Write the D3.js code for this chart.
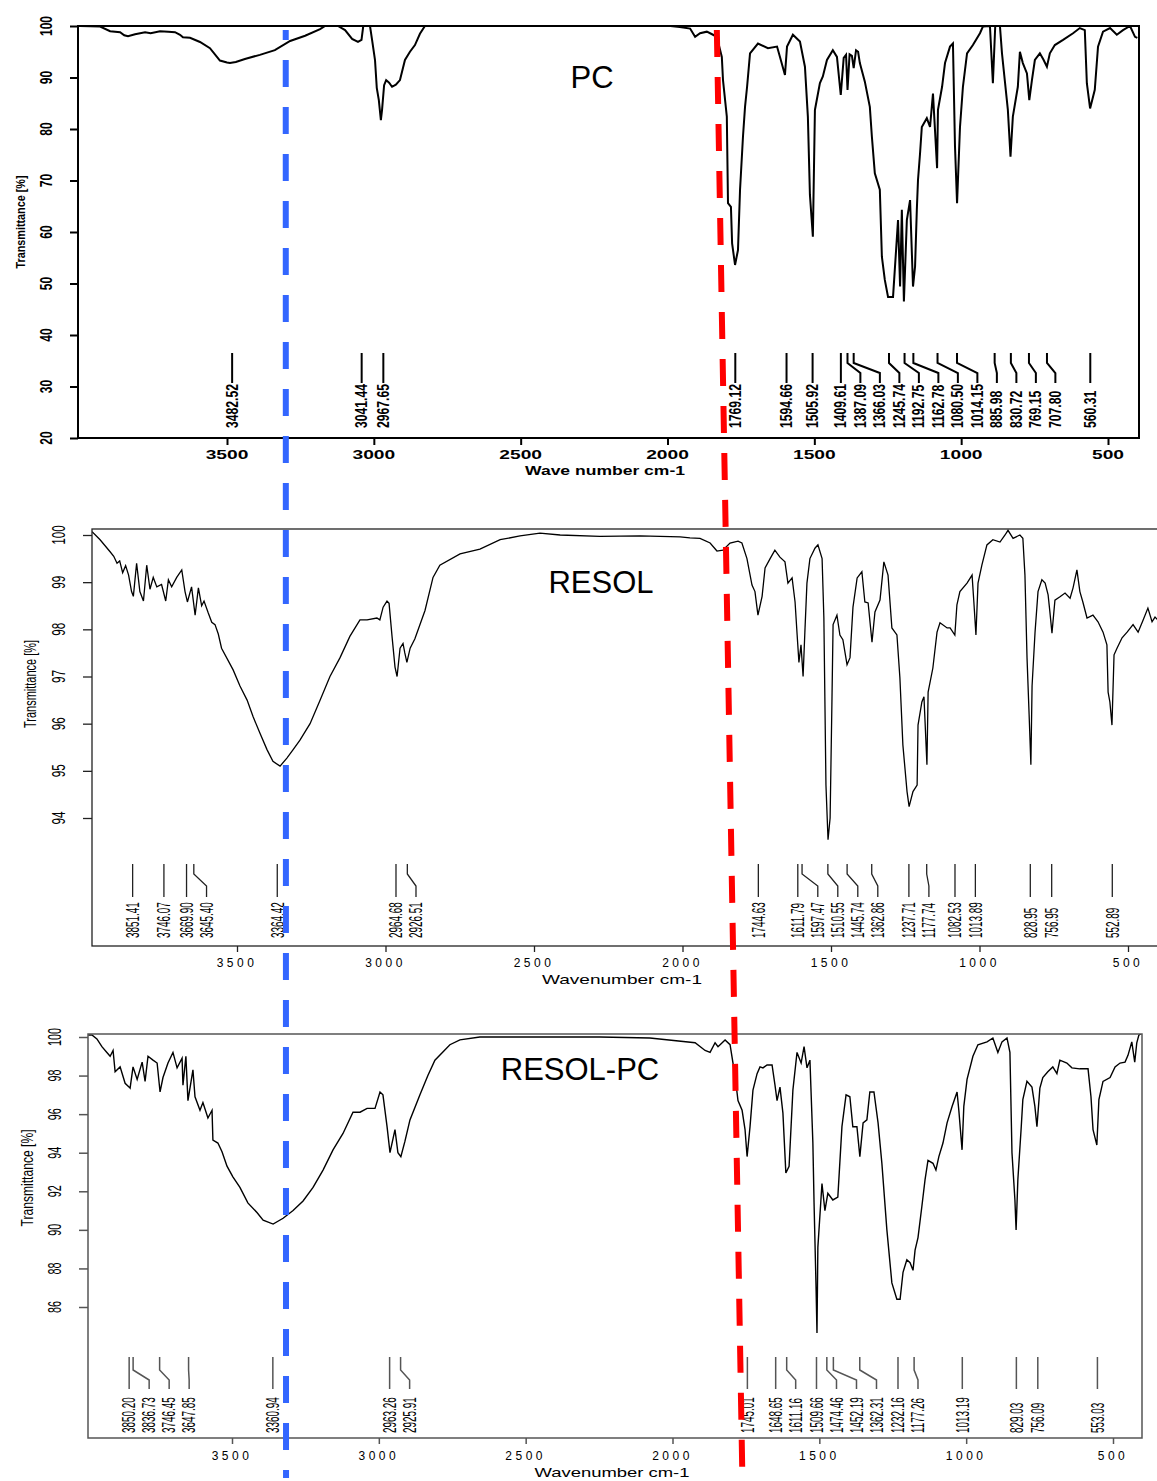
<!DOCTYPE html>
<html>
<head>
<meta charset="utf-8">
<script src="https://cdn.jsdelivr.net/npm/d3@7"></script>
<style>
  body { margin: 0; background: #fff; }
  svg { display: block; font-family: "Liberation Sans", Arial, sans-serif; }
</style>
</head>
<body>
<svg id="chart" width="1157" height="1481"></svg>
<script>
// ---- data: [wavenumber cm-1, transmittance %] ----
const xTicks = [3500, 3000, 2500, 2000, 1500, 1000, 500];
const pcYTicks = [100, 90, 80, 70, 60, 50, 40, 30, 20];
const resolYTicks = [100, 99, 98, 97, 96, 95, 94];
const resolPcYTicks = [100, 98, 96, 94, 92, 90, 88, 86];

const pcPeaks = [3482.52, 3041.44, 2967.65, 1769.12, 1594.66, 1505.92, 1409.61, 1387.09, 1366.03,
  1245.74, 1192.75, 1162.78, 1080.50, 1014.15, 885.98, 830.72, 769.15, 707.80, 560.31];
const resolPeaks = [3851.41, 3746.07, 3669.90, 3645.40, 3364.42, 2964.68, 2926.51, 1744.63, 1611.79,
  1597.47, 1510.55, 1445.74, 1362.86, 1237.71, 1177.74, 1082.53, 1013.89, 828.95, 756.95, 552.89];
const resolPcPeaks = [3850.20, 3836.73, 3746.45, 3647.85, 3360.94, 2963.26, 2925.91, 1745.01, 1648.65,
  1611.16, 1509.66, 1474.46, 1452.19, 1362.31, 1232.16, 1177.26, 1013.19, 829.03, 756.09, 553.03];

const pcSpectrum = [[4000,100],[3932,99.9],[3898,99.0],[3864,98.8],[3850,98.2],[3837,98.0],[3813,98.4],[3779,98.8],
  [3760,98.6],[3728,99.0],[3700,98.9],[3677,98.8],[3660,98.3],[3650,97.8],[3626,97.7],[3592,96.9],[3558,95.7],
  [3524,93.3],[3500,92.9],[3490,92.8],[3470,93.0],[3439,93.6],[3388,94.4],[3337,95.3],[3285,97.1],[3234,98.1],
  [3183,99.4],[3166,100],[3122,100],[3098,99.2],[3074,97.5],[3054,96.9],[3042,97.3],[3036,100],[3013,100],
  [3006,97.3],[2996,93.4],[2990,88],[2983,85.6],[2976,81.7],[2972,83.7],[2965,88.5],[2958,89.5],[2948,89.0],
  [2938,88.2],[2925,88.6],[2911,89.5],[2894,93.4],[2877,95],[2860,96.3],[2843,98.5],[2826,100],[1990,100],
  [1958,99.8],[1923,99.5],[1906,97.9],[1889,98.6],[1866,98.9],[1845,98.3],[1832,97.9],[1815,94],[1811,89.5],
  [1798,82.4],[1794,65.6],[1784,64.9],[1780,57.8],[1770,53.6],[1760,56.5],[1753,68.2],[1743,78.5],[1736,84.3],
  [1729,88.2],[1719,94.7],[1692,96.6],[1658,95.7],[1627,96],[1617,94],[1600,90.5],[1593,96],[1573,98.3],
  [1549,97],[1532,92.1],[1522,82.4],[1515,67.2],[1505,59.1],[1498,83.7],[1481,88.9],[1471,90.2],[1457,93.4],
  [1437,95.3],[1423,94],[1410,86.6],[1400,93.8],[1392,94.4],[1387,87.6],[1380,94.5],[1372,94.2],[1366,91.8],
  [1358,95.3],[1351,95],[1345,92.8],[1328,89.2],[1311,84.3],[1304,78.5],[1294,71.4],[1277,68.2],[1270,55.2],
  [1260,50.7],[1249,47.4],[1232,47.4],[1215,62.3],[1208,49.4],[1202,64.3],[1195,46.5],[1185,62.3],[1174,66.2],
  [1164,49.4],[1157,53.3],[1151,64.3],[1147,70.1],[1140,75.3],[1134,80.4],[1117,82.1],[1106,80.4],[1096,86.9],
  [1082,72.4],[1079,83.7],[1065,88.2],[1055,92.8],[1038,96],[1028,96.6],[1021,76.6],[1014,65.6],[1004,80.4],
  [994,88.2],[980,94.7],[960,96.3],[936,98.6],[926,99.9],[902,100],[892,88.9],[884,100],[868,100],[861,94.7],
  [851,89.2],[841,83.7],[832,74.6],[824,82.4],[807,88.2],[800,95],[790,92.8],[776,90.8],[768,85.6],[759,89.5],
  [749,93.4],[732,94.7],[720,93.5],[708,92.1],[698,94.7],[681,96.3],[653,97.3],[619,98.6],[596,99.6],[579,99.2],
  [572,88.9],[561,84],[545,87.6],[534,96],[517,98.9],[493,99.6],[470,98.3],[449,99.2],[425,100],[408,97.9],[400,97.7]];

const resolSpectrum = [[3988,100.07],[3961,99.9],[3928,99.65],[3915,99.55],[3904,99.4],[3895,99.45],[3885,99.2],
  [3875,99.35],[3865,99.15],[3855,98.8],[3849,98.7],[3838,99.4],[3827,98.8],[3815,98.6],[3804,99.36],[3793,98.85],
  [3782,99.1],[3770,98.9],[3754,98.95],[3740,98.6],[3731,99.05],[3720,98.9],[3703,99.1],[3686,99.26],[3675,98.8],
  [3667,98.58],[3653,98.9],[3641,98.3],[3630,98.88],[3619,98.5],[3611,98.6],[3597,98.35],[3585,98.15],[3574,98.1],
  [3563,97.9],[3552,97.6],[3513,97.14],[3490,96.8],[3466,96.5],
  [3446,96.15],[3423,95.8],[3399,95.45],[3379,95.2],[3355,95.1],[3332,95.27],[3311,95.45],[3288,95.65],[3254,96],
  [3220,96.5],[3187,97],[3153,97.4],[3120,97.85],[3086,98.2],[3062,98.2],[3029,98.24],[3019,98.2],[3008,98.47],
  [2995,98.6],[2988,98.55],[2978,97.85],[2968,97.2],[2961,97.0],[2951,97.6],[2941,97.7],[2935,97.5],[2928,97.3],
  [2917,97.6],[2901,97.8],[2867,98.4],[2840,99.1],[2817,99.36],[2749,99.6],[2682,99.7],[2614,99.9],[2547,99.98],
  [2480,100.04],[2412,100],[2278,99.97],[2143,99.98],[2008,99.96],[1975,99.94],[1941,99.93],[1907,99.83],
  [1884,99.66],[1864,99.68],[1840,99.83],[1813,99.87],[1800,99.83],[1783,99.5],[1766,98.94],[1756,98.8],
  [1746,98.3],[1732,98.7],[1722,99.3],[1705,99.5],[1689,99.68],[1672,99.53],[1655,99.43],[1645,98.98],
  [1631,99.09],[1621,98.58],[1614,97.88],[1608,97.3],[1601,97.67],[1594,97.0],[1588,97.94],[1581,98.98],
  [1571,99.5],[1554,99.72],[1544,99.79],[1530,99.5],[1524,98.24],[1517,94.7],[1510,93.54],[1503,94],[1497,96.4],
  [1493,98.1],[1480,98.3],[1470,97.88],[1460,97.78],[1446,97.25],[1436,97.4],[1426,98.47],[1412,99.09],
  [1396,99.22],[1386,98.58],[1375,98.56],[1362,97.73],[1352,98.37],[1335,98.62],[1322,99.43],[1308,99.15],
  [1295,98.03],[1278,97.88],[1268,96.97],[1258,95.55],[1244,94.56],[1237,94.24],[1224,94.56],[1210,94.7],
  [1207,95.97],[1194,96.46],[1187,96.57],[1177,95.13],[1173,96.67],[1157,97.18],[1143,97.94],[1133,98.14],
  [1109,98.03],[1099,98.03],[1083,97.88],[1076,98.52],[1066,98.8],[1042,98.98],[1025,99.15],[1019,98.58],
  [1012,97.88],[1005,98.98],[992,99.36],[975,99.79],[955,99.9],[931,99.85],[914,100],[904,100.1],[887,99.93],
  [864,100],[854,99.93],[847,99.15],[840,97.4],[833,96.2],[827,95.13],[823,96.8],[813,97.94],[803,98.8],
  [790,99.05],[779,98.98],[769,98.73],[763,98.37],[756,97.92],[746,98.62],[729,98.69],[712,98.77],[695,98.66],
  [685,98.88],[672,99.26],[662,98.8],[652,98.58],[638,98.24],[618,98.3],[601,98.16],[584,97.94],[571,97.67],
  [567,96.67],[561,96.46],[554,95.97],[547,97.46],[537,97.6],[520,97.82],[503,97.94],[483,98.1],[466,97.94],
  [449,98.2],[433,98.45],[419,98.16],[409,98.26],[400,98.2]];

const resolPcSpectrum = [[3990,100.1],[3977,100.1],[3960,99.9],[3943,99.5],[3926,99.2],[3915,99.0],[3905,99.3],
  [3898,98.2],[3881,98.45],[3864,97.6],[3850,97.4],[3847,97.35],[3837,98.45],[3823,97.8],[3806,98.7],[3796,97.7],
  [3786,99.0],[3769,98.8],[3755,98.65],[3745,97.15],[3735,97.9],[3718,98.65],[3701,99.2],[3687,98.4],[3670,98.9],
  [3667,97.5],[3657,99.0],[3650,96.7],[3633,98.3],[3626,96.9],[3609,96.2],[3599,96.6],[3582,95.8],[3568,96.2],
  [3565,94.65],[3548,94.5],[3534,94.05],[3517,93.3],[3497,92.75],[3473,92.2],[3446,91.4],[3415,90.9],[3394,90.5],
  [3360,90.3],[3326,90.6],[3292,91],[3258,91.5],[3224,92.2],[3190,93.1],[3156,94.15],[3122,95],[3088,96.1],
  [3064,96.1],[3040,96.3],[3013,96.3],[2996,97.15],[2986,97],[2972,95.35],[2962,94],[2945,95.2],[2935,94],
  [2925,93.8],[2911,94.6],[2894,95.7],[2860,97],[2833,98],[2809,98.8],[2758,99.6],[2724,99.85],[2656,100],
  [2519,100],[2247,100],[2077,99.95],[1923,99.7],[1889,99.3],[1872,99.2],[1855,99.7],[1845,99.5],[1821,99.85],
  [1804,99.6],[1794,98.65],[1784,97.6],[1777,96.7],[1763,96.2],[1753,95.2],[1746,93.8],[1736,95.35],[1726,97.25],
  [1712,98.1],[1702,98.45],[1692,98.4],[1678,98.55],[1661,98.55],[1651,97.5],[1644,96.7],[1634,97.4],[1624,96.05],
  [1614,92.95],[1603,93.3],[1590,97.25],[1576,99.2],[1562,98.65],[1552,99.5],[1542,98.4],[1532,98.8],[1522,94.5],
  [1518,91.4],[1511,86.9],[1508,84.65],[1505,89.1],[1491,92.4],[1481,91],[1471,91.9],[1454,91.55],[1437,91.7],
  [1423,95.35],[1409,97],[1396,96.9],[1386,95.35],[1372,95.35],[1362,93.8],[1351,95.55],[1338,95.7],[1328,97.15],
  [1314,97.15],[1300,95.55],[1287,93.45],[1270,90],[1253,87.25],[1236,86.4],[1225,86.4],[1215,87.8],[1202,88.45],
  [1191,88.3],[1181,87.9],[1174,88.95],[1164,89.6],[1151,91.2],[1140,92.6],[1130,93.6],[1113,93.45],[1103,93.1],
  [1093,93.8],[1079,94.5],[1065,95.55],[1048,96.4],[1031,97.15],[1025,96.2],[1014,94.15],[1008,96.4],[997,97.8],
  [977,99],[960,99.6],[929,99.75],[909,99.95],[892,99.2],[878,99.75],[861,99.95],[851,99.2],[844,94],[834,91.55],
  [830,90],[824,92.6],[813,95.2],[807,96.75],[793,97.7],[776,97.4],[766,96.4],[759,95.35],[749,97.35],[739,97.9],
  [722,98.2],[705,98.45],[691,98.1],[681,98.8],[657,98.65],[640,98.4],[613,98.35],[585,98.35],[575,96.9],
  [568,95.2],[555,94.4],[548,96.75],[534,97.7],[510,97.9],[493,98.45],[476,98.65],[459,98.7],[449,99.05],
  [436,99.75],[426,98.7],[419,99.7],[412,100.1],[402,100.2]];

// dashed guide lines: wavenumber where each meets the top panel and the bottom panel
const blueGuide = [3300, 3316];
const redGuide = [1832, 1762];

// ---- layout ----
const panels = [
  { title: 'PC', titleX: 592, titleY: 88, spectrum: pcSpectrum, peaks: pcPeaks, yTicks: pcYTicks,
    left: 78, right: 1139, top: 26, bottom: 438, xRange: [227, 1108], yDomain: [20, 100], yRange: [438, 26],
    frame: '#000', frameW: 2, lineW: 2, weight: 'bold', tickLen: 8, xTickLen: 7,
    yLabX: 46, yLabSize: 16, yLabSx: 0.75,
    xLabY: 459, xLabSize: 12, xLabSx: 1.6, xLabSpacing: 0,
    xTitle: 'Wave number cm-1', xTitleX: 605, xTitleY: 475, xTitleSize: 12, xTitleLen: 160,
    yTitleX: 20, yTitleY: 222, yTitleSize: 13, yTitleLen: 93,
    pTop: 353, pJ1: 363, pJ2: 373, pBottom: 383, pText: 428, pSize: 16, pSx: 0.76, gap: 19.5 },
  { title: 'RESOL', titleX: 601, titleY: 593, spectrum: resolSpectrum, peaks: resolPeaks, yTicks: resolYTicks,
    left: 92, right: 1160, top: 529, bottom: 946, xRange: [237, 1128], yDomain: [94, 100], yRange: [818, 535],
    frame: '#222', frameW: 1.3, lineW: 1.3, weight: 'normal', tickLen: 9, xTickLen: 6,
    yLabX: 59, yLabSize: 18, yLabSx: 0.65,
    xLabY: 967, xLabSize: 12, xLabSx: 1, xLabSpacing: 3.5,
    xTitle: 'Wavenumber cm-1', xTitleX: 622, xTitleY: 984, xTitleSize: 13, xTitleLen: 160,
    yTitleX: 30, yTitleY: 684, yTitleSize: 16, yTitleLen: 88,
    pTop: 864, pJ1: 874, pJ2: 886, pBottom: 897, pText: 938, pSize: 18, pSx: 0.55, gap: 20 },
  { title: 'RESOL-PC', titleX: 580, titleY: 1080, spectrum: resolPcSpectrum, peaks: resolPcPeaks, yTicks: resolPcYTicks,
    left: 88, right: 1142, top: 1034, bottom: 1438, xRange: [232, 1113], yDomain: [86, 100], yRange: [1307, 1037],
    frame: '#555', frameW: 1.5, lineW: 1.4, weight: 'normal', tickLen: 9, xTickLen: 6,
    yLabX: 55, yLabSize: 18, yLabSx: 0.6,
    xLabY: 1460, xLabSize: 12, xLabSx: 1, xLabSpacing: 3.5,
    xTitle: 'Wavenumber cm-1', xTitleX: 612, xTitleY: 1477, xTitleSize: 13, xTitleLen: 155,
    yTitleX: 27, yTitleY: 1178, yTitleSize: 16, yTitleLen: 97,
    pTop: 1357, pJ1: 1370, pJ2: 1380, pBottom: 1389, pText: 1433, pSize: 18, pSx: 0.55, gap: 20 }
];

const svg = d3.select('#chart');
const fmt = d3.format('.2f');
const xScales = [];

const drawPanel = (p, i) => {
  const x = d3.scaleLinear().domain([3500, 500]).range(p.xRange);
  const y = d3.scaleLinear().domain(p.yDomain).range(p.yRange);
  xScales.push(x);
  const g = svg.append('g').style('font-weight', p.weight);

  svg.append('clipPath').attr('id', 'clip' + i)
     .append('rect')
     .attr('x', p.left).attr('y', p.top)
     .attr('width', p.right - p.left).attr('height', p.bottom - p.top);

  // spectrum
  g.append('path')
   .datum(p.spectrum)
   .attr('clip-path', `url(#clip${i})`)
   .attr('fill', 'none')
   .attr('stroke', '#000')
   .attr('stroke-width', p.lineW)
   .attr('d', d3.line().x(d => x(d[0])).y(d => y(d[1])));

  // frame
  g.append('rect')
   .attr('x', p.left).attr('y', p.top)
   .attr('width', p.right - p.left).attr('height', p.bottom - p.top)
   .attr('fill', 'none')
   .attr('stroke', p.frame)
   .attr('stroke-width', p.frameW);

  // y axis ticks
  const yAxis = d3.axisLeft(y).tickValues(p.yTicks).tickSize(p.tickLen).tickFormat('');
  const ya = g.append('g').attr('transform', `translate(${p.left},0)`).call(yAxis);
  ya.select('.domain').remove();
  ya.selectAll('line').attr('stroke', p.frame).attr('stroke-width', p.frameW);

  g.selectAll('.ylab')
   .data(p.yTicks)
   .enter()
   .append('text')
   .attr('class', 'ylab')
   .attr('transform', d => `translate(${p.yLabX},${y(d)}) rotate(-90) scale(${p.yLabSx},1)`)
   .attr('text-anchor', 'middle')
   .attr('dy', '0.35em')
   .style('font-size', p.yLabSize + 'px')
   .text(d => d);

  // x axis ticks
  const xAxis = d3.axisBottom(x).tickValues(xTicks).tickSize(p.xTickLen).tickFormat('');
  const xa = g.append('g').attr('transform', `translate(0,${p.bottom})`).call(xAxis);
  xa.select('.domain').remove();
  xa.selectAll('line').attr('stroke', p.frame).attr('stroke-width', p.frameW);

  g.selectAll('.xlab')
   .data(xTicks)
   .enter()
   .append('text')
   .attr('class', 'xlab')
   .attr('transform', d => `translate(${x(d)},${p.xLabY}) scale(${p.xLabSx},1)`)
   .attr('text-anchor', 'middle')
   .style('font-size', p.xLabSize + 'px')
   .style('letter-spacing', p.xLabSpacing + 'px')
   .text(d => d);

  // axis titles
  g.append('text')
   .attr('x', p.xTitleX).attr('y', p.xTitleY)
   .attr('text-anchor', 'middle')
   .attr('textLength', p.xTitleLen)
   .attr('lengthAdjust', 'spacingAndGlyphs')
   .style('font-size', p.xTitleSize + 'px')
   .text(p.xTitle);

  g.append('text')
   .attr('transform', `translate(${p.yTitleX},${p.yTitleY}) rotate(-90)`)
   .attr('text-anchor', 'middle')
   .attr('dy', '0.35em')
   .attr('textLength', p.yTitleLen)
   .attr('lengthAdjust', 'spacingAndGlyphs')
   .style('font-size', p.yTitleSize + 'px')
   .text('Transmittance [%]');

  // peak markers, labels pushed right when crowded
  const peaks = p.peaks.map(v => ({ v: v, px: x(v) })).sort((a, b) => a.px - b.px);
  peaks.forEach((d, k) => {
    d.lx = k === 0 ? d.px : Math.max(d.px, peaks[k - 1].lx + p.gap);
  });

  g.selectAll('.peak')
   .data(peaks)
   .enter()
   .append('path')
   .attr('class', 'peak')
   .attr('fill', 'none')
   .attr('stroke', p.frame)
   .attr('stroke-width', p.frameW)
   .attr('d', d => Math.abs(d.lx - d.px) < 0.5
     ? `M${d.px},${p.pTop}V${p.pBottom}`
     : `M${d.px},${p.pTop}V${p.pJ1}L${d.lx},${p.pJ2}V${p.pBottom}`);

  g.selectAll('.plab')
   .data(peaks)
   .enter()
   .append('text')
   .attr('class', 'plab')
   .attr('transform', d => `translate(${d.lx},${p.pText}) rotate(-90) scale(${p.pSx},1)`)
   .attr('dy', '0.35em')
   .style('font-size', p.pSize + 'px')
   .text(d => fmt(d.v));

  // title
  g.append('text')
   .attr('x', p.titleX).attr('y', p.titleY)
   .attr('text-anchor', 'middle')
   .style('font-size', '31px')
   .style('font-weight', 'normal')
   .text(p.title);
};

panels.forEach(drawPanel);

// dashed guides over everything
const guideTop = 30;
const guideBottom = 1478;
[[blueGuide, '#3366ff', 17], [redGuide, '#ff0000', 0]].forEach(([w, color, offset]) => {
  svg.append('line')
     .attr('x1', xScales[0](w[0])).attr('y1', guideTop)
     .attr('x2', xScales[2](w[1])).attr('y2', guideBottom)
     .attr('stroke', color)
     .attr('stroke-width', 6)
     .attr('stroke-dasharray', '27 20')
     .attr('stroke-dashoffset', offset);
});
</script>
</body>
</html>
